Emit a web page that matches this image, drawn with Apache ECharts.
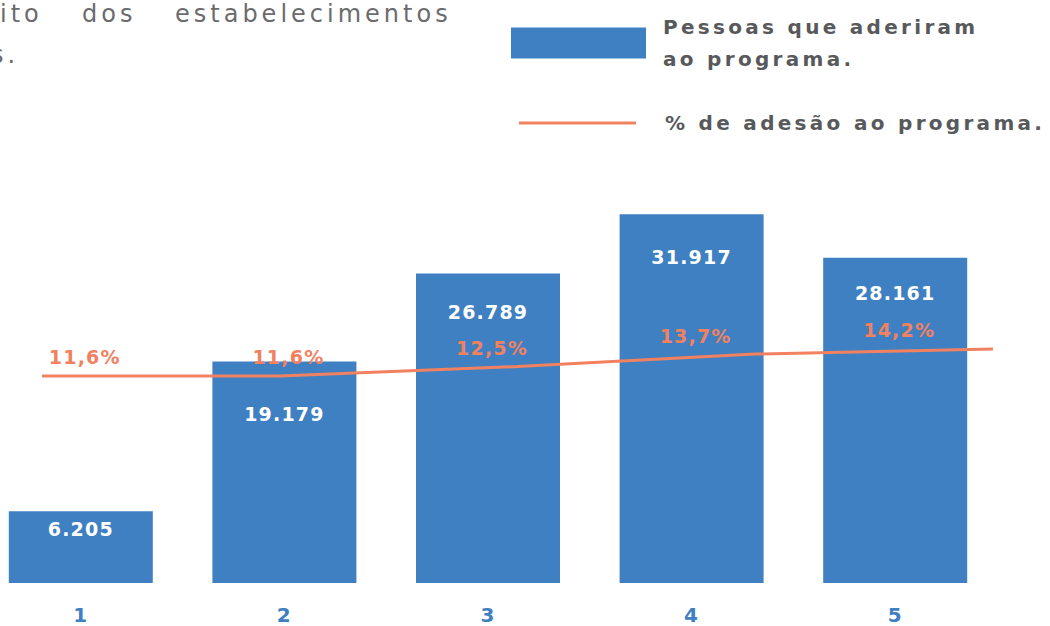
<!DOCTYPE html>
<html>
<head>
<meta charset="utf-8">
<script src="https://cdn.jsdelivr.net/npm/echarts@6/dist/echarts.min.js"></script>
<style>
  html, body { margin: 0; padding: 0; background: #fff; }
  #chart { width: 1050px; height: 626px; }
  /* letter spacing for the wide, spaced-out type of the original */
  #chart text { letter-spacing: 1.2px; }
  #chart text[fill="#58595b"] { letter-spacing: 3.3px; }
  #chart text[fill="#6a6b6d"] { letter-spacing: 4px; }
</style>
</head>
<body>
<div id="chart"></div>
<script>
var categories = ["1", "2", "3", "4", "5"];
var pessoas = [6205, 19179, 26789, 31917, 28161];
var adesao = [11.6, 11.6, 12.5, 13.7, 14.2];

var barName = "Pessoas que aderiram\nao programa.";
var lineName = "% de adesão ao programa.";

// how far below each bar top its value label sits
var barLabelGap = [8, 43, 29, 33, 26];

var chartDom = document.getElementById("chart");
var chart = echarts.init(chartDom, null, { renderer: "svg" });

function milhar(v) {
  return String(v).replace(/\B(?=(\d{3})+(?!\d))/g, ".");
}
function pct(v) {
  return v.toFixed(1).replace(".", ",") + "%";
}

var barData = pessoas.map(function (v, i) {
  return { value: v, label: { distance: barLabelGap[i] } };
});

var option = {
  animation: false,
  graphic: [
    { type: "text", left: 0, top: 2, style: { text: "ito", font: "24px 'DejaVu Sans'", fill: "#6a6b6d" } },
    { type: "text", left: 82, top: 2, style: { text: "dos", font: "24px 'DejaVu Sans'", fill: "#6a6b6d" } },
    { type: "text", left: 175, top: 2, style: { text: "estabelecimentos", font: "24px 'DejaVu Sans'", fill: "#6a6b6d" } },
    { type: "text", left: -9, top: 43, style: { text: "s.", font: "24px 'DejaVu Sans'", fill: "#6a6b6d" } },
  ],
  legend: [
    {
      data: [{ name: barName, icon: "rect" }],
      left: 506,
      top: 6,
      itemWidth: 135,
      itemHeight: 31,
      textStyle: {
        color: "#58595b",
        fontFamily: "DejaVu Sans",
        fontWeight: "bold",
        fontSize: 20,
        lineHeight: 32,
        padding: [0, 0, 0, 12],
      },
    },
    {
      data: [{ name: lineName, icon: "rect" }],
      left: 514,
      top: 108,
      itemWidth: 117,
      itemHeight: 3,
      textStyle: {
        color: "#58595b",
        fontFamily: "DejaVu Sans",
        fontWeight: "bold",
        fontSize: 20,
        padding: [0, 0, 0, 24],
      },
    },
  ],
  grid: [
    { left: -21, right: 53, top: 121, bottom: 43, outerBoundsMode: "none" },
    { left: 42, right: 57, top: 121, bottom: 43, outerBoundsMode: "none" },
  ],
  xAxis: [
    {
      type: "category",
      gridIndex: 0,
      data: categories,
      axisLine: { show: false },
      axisTick: { show: false },
      axisLabel: {
        margin: 22,
        color: "#3f7fc2",
        fontFamily: "DejaVu Sans",
        fontWeight: "bold",
        fontSize: 20,
      },
    },
    {
      type: "category",
      gridIndex: 1,
      data: categories,
      boundaryGap: false,
      show: false,
    },
  ],
  yAxis: [
    { type: "value", gridIndex: 0, min: 0, max: 40000, show: false, splitLine: { show: false } },
    { type: "value", gridIndex: 1, min: -8.35, max: 36.15, show: false, splitLine: { show: false } },
    { type: "value", gridIndex: 0, min: -8.35, max: 36.15, show: false, splitLine: { show: false } },
  ],
  series: [
    {
      name: barName,
      type: "bar",
      xAxisIndex: 0,
      yAxisIndex: 0,
      data: barData,
      barWidth: 144,
      itemStyle: { color: "#3f80c2" },
      label: {
        show: true,
        position: "insideTop",
        color: "#ffffff",
        fontFamily: "DejaVu Sans",
        fontWeight: "bold",
        fontSize: 19,
        formatter: function (p) {
          return milhar(p.value);
        },
      },
    },
    {
      name: lineName,
      type: "line",
      xAxisIndex: 1,
      yAxisIndex: 1,
      data: adesao,
      symbol: "none",
      lineStyle: { color: "#f2815f", width: 3 },
      itemStyle: { color: "#f2815f" },
      z: 3,
    },
    {
      name: "rotulos",
      type: "line",
      xAxisIndex: 0,
      yAxisIndex: 2,
      data: adesao,
      symbol: "circle",
      symbolSize: 0.1,
      showSymbol: true,
      lineStyle: { opacity: 0 },
      itemStyle: { color: "rgba(0,0,0,0)" },
      silent: true,
      z: 4,
      label: {
        show: true,
        position: "top",
        distance: 9,
        offset: [4, 0],
        color: "#f2815f",
        fontFamily: "DejaVu Sans",
        fontWeight: "bold",
        fontSize: 19,
        formatter: function (p) {
          return pct(p.value);
        },
      },
    },
  ],
};

chart.setOption(option);
</script>
</body>
</html>
